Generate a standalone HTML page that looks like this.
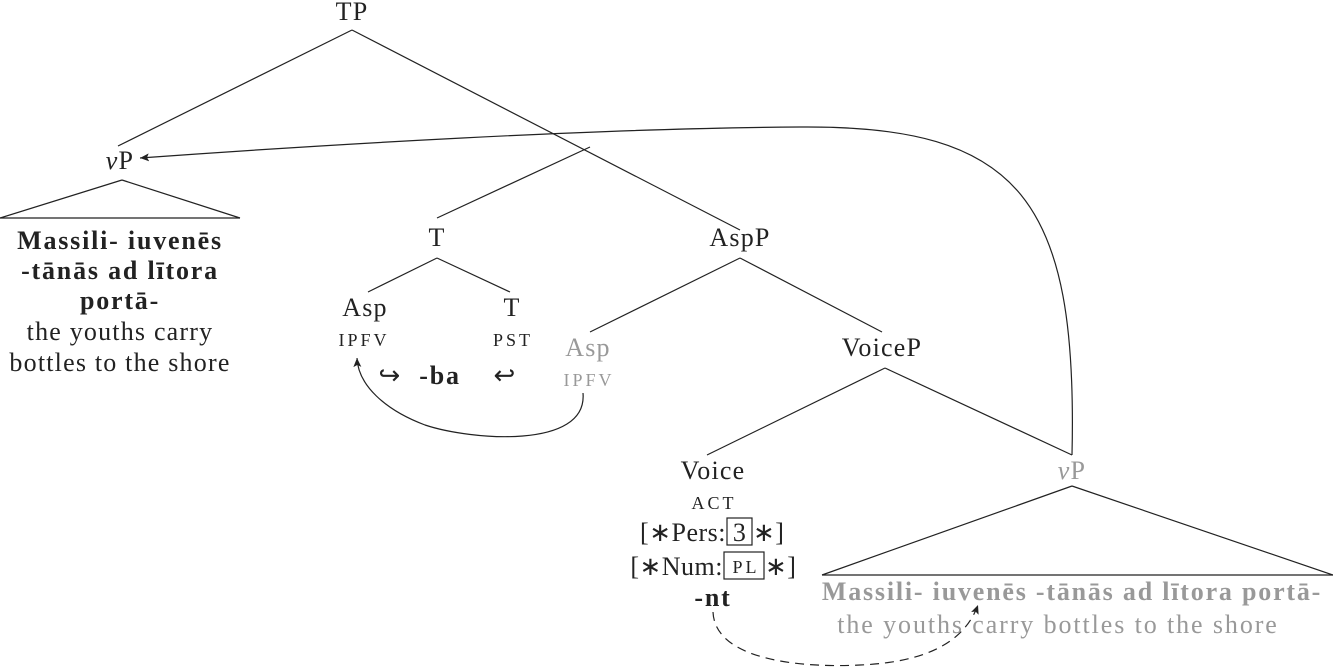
<!DOCTYPE html>
<html><head><meta charset="utf-8"><style>
html,body{margin:0;padding:0;background:#fff;}
svg{display:block;}
text{font-family:"Liberation Serif",serif;font-size:26px;letter-spacing:1.2px;fill:#222;text-anchor:middle;}
.b{font-weight:bold;letter-spacing:1.8px;}
.g{fill:#999;}
.sc{font-size:18px;letter-spacing:3px;}
.e{text-anchor:end;letter-spacing:0.5px;}
.s{text-anchor:start;letter-spacing:0.5px;}
</style></head><body>
<svg width="1333" height="668" viewBox="0 0 1333 668" xmlns="http://www.w3.org/2000/svg">
<defs>
<marker id="ar" markerWidth="10" markerHeight="8" refX="9" refY="4" orient="auto" markerUnits="userSpaceOnUse">
<path d="M0,0 L9,4 L0,8 L2,4 Z" fill="#222"/></marker>
</defs>
<g stroke="#222" stroke-width="1.2" fill="none">
<line x1="352" y1="30" x2="118" y2="146"/>
<line x1="352" y1="30" x2="740" y2="230"/>
<line x1="590" y1="147" x2="437" y2="218"/>
<line x1="122" y1="180" x2="0" y2="218"/>
<line x1="122" y1="180" x2="240" y2="218"/>
<line x1="0" y1="218" x2="240" y2="218"/>
<line x1="437" y1="258" x2="368" y2="292"/>
<line x1="437" y1="258" x2="510" y2="292"/>
<line x1="740" y1="258" x2="590" y2="332"/>
<line x1="740" y1="258" x2="882" y2="332"/>
<line x1="885" y1="368" x2="707" y2="455"/>
<line x1="885" y1="368" x2="1072" y2="455"/>
<line x1="1072" y1="486" x2="822" y2="575"/>
<line x1="1072" y1="486" x2="1333" y2="575"/>
<line x1="822" y1="575" x2="1333" y2="575"/>
<rect x="727" y="518" width="25" height="27"/>
<rect x="724" y="552" width="40" height="27"/>
<path d="M1072,455 C1078,200 1020,125 800,127 C600,128 320,145 140,158" marker-end="url(#ar)"/>
<path d="M583,393 C588,450 470,440 425,425 C385,410 358,385 357,358" marker-end="url(#ar)"/>
<path d="M713,612 C715,660 800,668 860,665 C930,662 965,640 978,605" stroke-dasharray="9,6" marker-end="url(#ar)"/>
</g>
<text x="352" y="20">TP</text>
<text x="120" y="169"><tspan font-style="italic">v</tspan>P</text>
<text class="b" x="120" y="249">Massili- iuvenēs</text>
<text class="b" x="120" y="279">-tānās ad lītora</text>
<text class="b" x="120" y="309">portā-</text>
<text x="120" y="340">the youths carry</text>
<text x="120" y="371">bottles to the shore</text>
<text x="437" y="246">T</text>
<text x="740" y="246">AspP</text>
<text x="365" y="316">Asp</text>
<text x="512" y="316">T</text>
<text class="sc" x="364" y="346">IPFV</text>
<text class="sc" x="513" y="346">PST</text>
<text x="390" y="384">↪</text>
<text class="b" x="440" y="384">-ba</text>
<text x="505" y="384">↩</text>
<text class="g" x="588" y="356">Asp</text>
<text class="g sc" x="589" y="386">IPFV</text>
<text x="882" y="356">VoiceP</text>
<text x="713" y="479">Voice</text>
<text class="sc" x="714" y="509">ACT</text>
<text class="e" x="726" y="541">[∗Pers:</text>
<text x="740" y="541">3</text>
<text class="s" x="753" y="541">∗]</text>
<text class="e" x="723" y="575">[∗Num:</text>
<text class="sc" x="746" y="573">PL</text>
<text class="s" x="765" y="575">∗]</text>
<text class="b" x="713" y="606">-nt</text>
<text class="g" x="1072" y="479"><tspan font-style="italic">v</tspan>P</text>
<text class="b g" x="1072" y="600">Massili- iuvenēs -tānās ad lītora portā-</text>
<text class="g" x="1058" y="633" style="letter-spacing:1.9px">the youths carry bottles to the shore</text>
</svg>
</body></html>
